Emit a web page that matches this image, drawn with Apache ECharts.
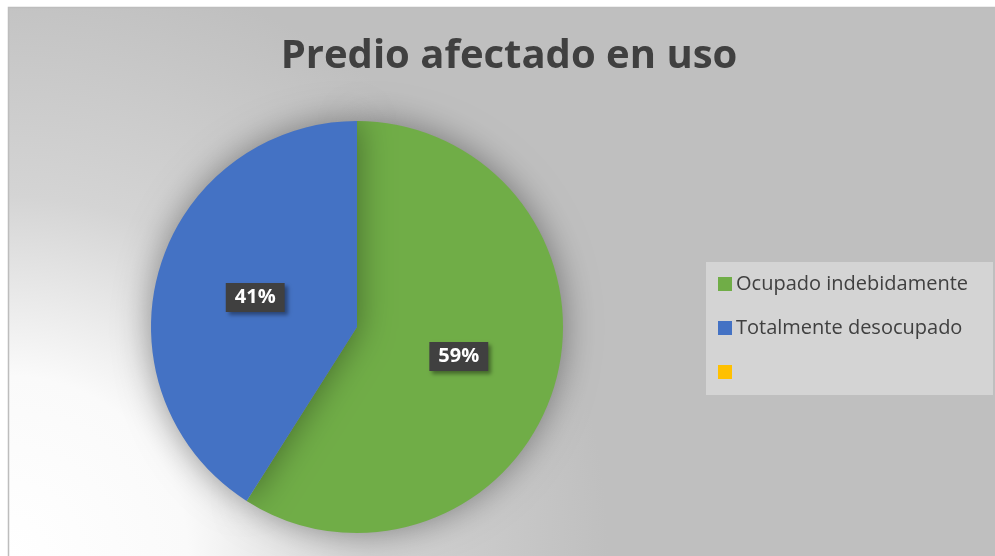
<!DOCTYPE html>
<html>
	<head>
		<meta charset="utf-8">
		<title>Predio afectado en uso</title>
		<script src="https://cdn.jsdelivr.net/npm/echarts@6/dist/echarts.min.js"></script>
	</head>
	<body style="margin: 0; overflow: hidden; background: #fff;">
		<div id="main" style="width: 995px; height: 556px;"></div>
		<script type="text/javascript">
			// datos del gráfico
			var categorias = ['Ocupado indebidamente', 'Totalmente desocupado', ' '];
			var valores = [59, 41, 0];
			var colores = ['#70ad47', '#4472c4', '#ffc000'];

			var myChart = echarts.init(document.getElementById('main'));

			var datos = categorias.map(function (c, i) {
				var d = { name: c, value: valores[i], itemStyle: { color: colores[i] } };
				if (!valores[i]) d.label = { show: false };
				return d;
			});

			var option = {
				backgroundColor: '#ffffff',
				graphic: [
					{
						type: 'rect',
						z: -10,
						shape: { x: 8.5, y: 7.5, width: 1000, height: 560 },
						style: {
							fill: new echarts.graphic.RadialGradient(8, 556, 600, [
								{ offset: 0, color: '#ffffff' },
								{ offset: 0.3, color: '#fafafa' },
								{ offset: 0.6, color: '#d4d4d4' },
								{ offset: 1, color: '#bfbfbf' }
							], true),
							stroke: '#bdbdbd',
							lineWidth: 1.5
						}
					}
				],
				title: {
					text: 'Predio afectado en uso',
					left: 504,
					top: 32,
					textAlign: 'center',
					textStyle: {
						fontFamily: 'Open Sans',
						fontSize: 40,
						fontWeight: 'bold',
						color: '#404040'
					}
				},
				legend: {
					orient: 'vertical',
					left: 706,
					top: 262,
					backgroundColor: '#d4d4d4',
					padding: [12, 25, 13, 12],
					itemWidth: 14,
					itemHeight: 14,
					itemGap: 24,
					icon: 'rect',
					data: categorias,
					textStyle: {
						fontFamily: 'Open Sans',
						fontSize: 20,
						color: '#404040',
						padding: [0, 0, 0, -1]
					}
				},
				series: [
					{
						name: 'Predio afectado en uso',
						type: 'pie',
						center: [357, 327],
						radius: 206,
						startAngle: 90,
						clockwise: true,
						silent: true,
						data: datos,
						itemStyle: {
							shadowBlur: 35,
							shadowColor: 'rgba(0, 0, 0, 0.4)'
						},
						label: {
							show: true,
							position: 'inside',
							formatter: '{c}%',
							fontFamily: 'Open Sans',
							fontSize: 20,
							fontWeight: 'bold',
							color: '#ffffff',
							backgroundColor: '#404040',
							padding: [5, 9, 4, 9],
							shadowBlur: 4,
							shadowOffsetX: 3,
							shadowOffsetY: 3,
							shadowColor: 'rgba(0, 0, 0, 0.4)'
						},
						labelLine: { show: false },
						animation: false
					}
				]
			};
			myChart.setOption(option);
		</script>
	</body>
</html>
